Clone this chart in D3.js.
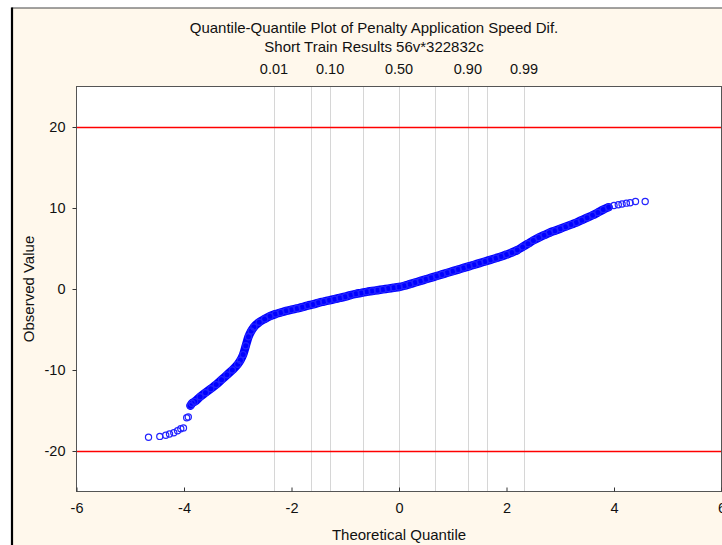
<!DOCTYPE html>
<html><head><meta charset="utf-8">
<script src="https://cdn.jsdelivr.net/npm/d3@7"></script>
<style>
html,body{margin:0;padding:0;background:#fff;}
svg{display:block;}
text{font-family:"Liberation Sans Narrow","Arial Narrow","Liberation Sans",Arial,sans-serif;fill:#111;}
</style></head>
<body>
<svg id="chart" width="722" height="545"></svg>
<script>
// ---- data ----
const titleLines = ["Quantile-Quantile Plot of Penalty Application Speed Dif.", "Short Train Results 56v*322832c"];
const xLabel = "Theoretical Quantile";
const yLabel = "Observed Value";
const xTicks = [-6, -4, -2, 0, 2, 4, 6];
const yTicks = [-20, -10, 0, 10, 20];
const refLines = [20, -20];
// normal quantiles of the probability grid
const gridProbs = [0.01, 0.05, 0.10, 0.25, 0.50, 0.75, 0.90, 0.95, 0.99];
const gridZ = [-2.326, -1.645, -1.282, -0.674, 0, 0.674, 1.282, 1.645, 2.326];
const gridLabelled = ["0.01", "0.10", "0.50", "0.90", "0.99"];
// theoretical quantile / observed value pairs
const theoretical = [-4.66,-4.45,-4.34,-4.27,-4.19,-4.12,-4.06,-4.01,-3.95,-3.92,-3.88,-3.85,-3.8,-3.7,-3.6,-3.5,-3.4,-3.3,-3.2,-3.1,-3.0,-2.95,-2.9,-2.85,-2.8,-2.75,-2.7,-2.6,-2.5,-2.4,-2.3,-2.2,-2.1,-2.0,-1.9,-1.8,-1.7,-1.6,-1.5,-1.4,-1.3,-1.2,-1.1,-1.0,-0.9,-0.8,-0.7,-0.6,-0.5,-0.4,-0.3,-0.2,-0.1,0.0,0.1,0.2,0.3,0.4,0.5,0.6,0.7,0.8,0.9,1.0,1.1,1.2,1.3,1.4,1.5,1.6,1.7,1.8,1.9,2.0,2.1,2.2,2.3,2.4,2.5,2.6,2.7,2.8,2.9,3.0,3.1,3.2,3.3,3.4,3.5,3.6,3.7,3.8,3.9,4.0,4.08,4.15,4.23,4.3,4.4,4.58];
const observed = [-18.3,-18.2,-18.05,-17.9,-17.75,-17.5,-17.25,-17.15,-15.9,-15.8,-14.4,-14.1,-13.9,-13.3,-12.8,-12.3,-11.8,-11.2,-10.6,-10.0,-9.3,-8.8,-8.1,-7.0,-5.9,-5.2,-4.7,-4.1,-3.7,-3.35,-3.1,-2.9,-2.7,-2.55,-2.4,-2.25,-2.05,-1.9,-1.7,-1.55,-1.4,-1.25,-1.1,-0.95,-0.75,-0.6,-0.48,-0.35,-0.25,-0.15,-0.05,0.05,0.15,0.25,0.4,0.6,0.8,1.0,1.2,1.4,1.6,1.8,2.0,2.2,2.4,2.6,2.8,3.0,3.2,3.4,3.6,3.8,4.0,4.25,4.5,4.8,5.2,5.6,6.0,6.35,6.65,6.95,7.2,7.45,7.7,7.95,8.2,8.5,8.8,9.1,9.45,9.8,10.1,10.3,10.4,10.5,10.6,10.65,10.8,10.8];
const denseRange = [-3.88, 3.9];

// ---- layout ----
const svg = d3.select("#chart");
const W = 722, H = 545;
const plot = {left: 76.5, right: 721.5, top: 86.5, bottom: 491.5};

// outer frame
svg.append("rect").attr("x", 12).attr("y", 8).attr("width", W).attr("height", H)
  .attr("fill", "#fff8ec");
svg.append("line").attr("x1", 11.5).attr("x2", W).attr("y1", 8).attr("y2", 8)
  .attr("stroke", "#444").attr("stroke-width", 1);
svg.append("line").attr("x1", 12).attr("x2", 12).attr("y1", 7.5).attr("y2", H)
  .attr("stroke", "#000").attr("stroke-width", 2.2);

const x = d3.scaleLinear().domain([-6, 6]).range([plot.left, plot.right]);
const y = d3.scaleLinear().domain([-25, 25]).range([plot.bottom, plot.top]);

// plot area
svg.append("rect").attr("x", plot.left).attr("y", plot.top)
  .attr("width", plot.right - plot.left).attr("height", plot.bottom - plot.top)
  .attr("fill", "#fff");

// grid lines at probabilities
svg.append("g").selectAll("line").data(gridZ).join("line")
  .attr("x1", d => Math.round(x(d)) + 0.5).attr("x2", d => Math.round(x(d)) + 0.5)
  .attr("y1", plot.top).attr("y2", plot.bottom)
  .attr("stroke", "#d6d6d6").attr("stroke-width", 1);

// reference lines
svg.append("g").selectAll("line").data(refLines).join("line")
  .attr("x1", plot.left).attr("x2", plot.right)
  .attr("y1", d => Math.round(y(d)) + 0.5).attr("y2", d => Math.round(y(d)) + 0.5)
  .attr("stroke", "#ff0000").attr("stroke-width", 1.3);

// data
const pts = theoretical.map((q, i) => ({q, v: observed[i]}));
const dense = pts.filter(d => d.q >= denseRange[0] && d.q <= denseRange[1]);
svg.append("path").datum(dense)
  .attr("d", d3.line().x(d => x(d.q)).y(d => y(d.v)).curve(d3.curveMonotoneX))
  .attr("fill", "none").attr("stroke", "#0000ff").attr("stroke-width", 8.5)
  .attr("stroke-linecap", "round").attr("stroke-linejoin", "round");
svg.append("g").selectAll("circle").data(pts).join("circle")
  .attr("cx", d => x(d.q)).attr("cy", d => y(d.v)).attr("r", 3.1)
  .attr("fill", "none").attr("stroke", "#2323ff").attr("stroke-width", 1.2);

// frame of plot
svg.append("rect").attr("x", plot.left).attr("y", plot.top)
  .attr("width", plot.right - plot.left).attr("height", plot.bottom - plot.top)
  .attr("fill", "none").attr("stroke", "#555").attr("stroke-width", 1);

// axes
const fmt = d => String(d);
const xAxis = d3.axisBottom(x).tickValues(xTicks).tickSizeInner(-4).tickSizeOuter(0).tickPadding(11)
  .tickFormat(fmt);
const gx = svg.append("g").attr("transform", `translate(0,${plot.bottom})`).call(xAxis);
gx.select(".domain").remove();
gx.selectAll("line").attr("stroke", "#333");
gx.selectAll("text").attr("font-size", 14.5).attr("dy", "0.71em").style("font-family", null);

const yAxis = d3.axisLeft(y).tickValues(yTicks).tickSizeInner(4).tickSizeOuter(0).tickPadding(7)
  .tickFormat(fmt);
const gy = svg.append("g").attr("transform", `translate(${plot.left},0)`).call(yAxis);
gy.select(".domain").remove();
gy.selectAll("line").attr("stroke", "#333");
gy.selectAll("text").attr("font-size", 14.5).style("font-family", null);

// top probability labels
svg.append("g").selectAll("text").data(gridLabelled).join("text")
  .attr("x", d => x(gridZ[gridProbs.indexOf(+d)]))
  .attr("y", 74).attr("text-anchor", "middle").attr("font-size", 14.5)
  .text(d => d);

// titles
svg.append("g").selectAll("text").data(titleLines).join("text")
  .attr("x", 374).attr("y", (d, i) => 33 + i * 19)
  .attr("text-anchor", "middle").attr("font-size", 15)
  .text(d => d);

svg.append("text").attr("x", 399).attr("y", 540).attr("text-anchor", "middle")
  .attr("font-size", 15).text(xLabel);
svg.append("text").attr("transform", "translate(34,289) rotate(-90)")
  .attr("text-anchor", "middle").attr("font-size", 15).text(yLabel);
</script>
</body></html>
